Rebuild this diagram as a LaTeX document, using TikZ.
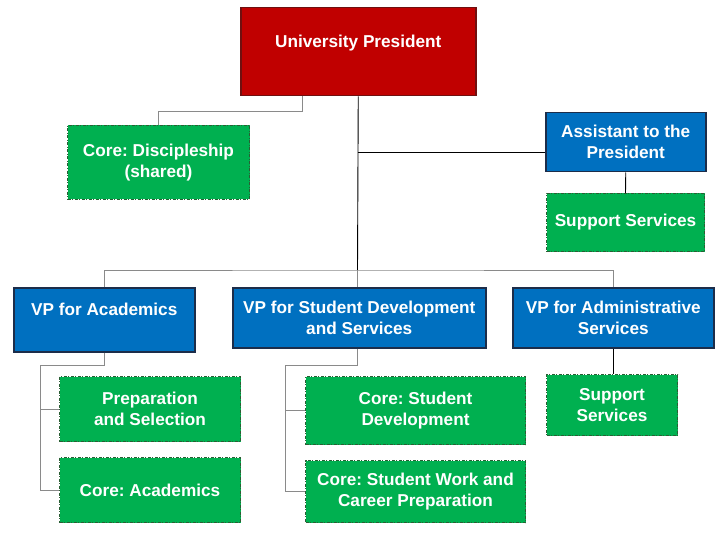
\documentclass[tikz,border=0pt]{standalone}
\usepackage{fontspec}
\setmainfont{Liberation Sans}
\frenchspacing
\definecolor{pred}{HTML}{C00000}
\definecolor{predb}{HTML}{6F1010}
\definecolor{pblue}{HTML}{0070C0}
\definecolor{pblueb}{HTML}{1C2D4A}
\definecolor{pgreen}{HTML}{00B050}
\definecolor{pgreenb}{HTML}{2A5E34}
\definecolor{lgray}{HTML}{8A8A8A}
\begin{document}
\begin{tikzpicture}[x=1pt,y=-1pt,
  base/.style={anchor=north west, inner sep=0pt, align=center, text=white,
    font=\fontsize{17.2}{21}\selectfont\bfseries\frenchspacing},
  redbox/.style={base, fill=pred, draw=predb, line width=1.5pt},
  bluebox/.style={base, fill=pblue, draw=pblueb, line width=1.5pt},
  greenbox/.style={base, fill=pgreen, draw=pgreenb, line width=1pt, dash pattern=on 3pt off 1.5pt on 1pt off 1.5pt},
  conn/.style={draw=lgray, line width=0.9pt},
  connk/.style={draw=black, line width=0.9pt}]
\useasboundingbox (0,0) rectangle (720,540);
\fill[white] (0,0) rectangle (720,540);

% boxes
\node[redbox, minimum width=235pt, minimum height=88pt] (pres) at (240,7) {University President\\\mbox{}};
\node[greenbox, minimum width=182pt, minimum height=74pt] (disc) at (67,125) {Core: Discipleship\\(shared)};
\node[bluebox, minimum width=160pt, minimum height=59pt] (asst) at (545,112) {Assistant to the\\President};
\node[greenbox, minimum width=158pt, minimum height=58pt] (sup1) at (546,193) {Support Services};

\node[bluebox, minimum width=181pt, minimum height=64pt] (vpa) at (13,287) {VP for Academics\\\mbox{}};
\node[bluebox, minimum width=253pt, minimum height=60pt] (vps) at (232,287) {VP for Student Development\\and Services};
\node[bluebox, minimum width=201pt, minimum height=60pt] (vpad) at (512,287) {VP for Administrative\\Services};

\node[greenbox, minimum width=181pt, minimum height=65pt] (prep) at (59,376) {Preparation\\and Selection};
\node[greenbox, minimum width=181pt, minimum height=65pt] (cacad) at (59,457) {Core: Academics};
\node[greenbox, minimum width=220pt, minimum height=68pt] (csd) at (305,376) {Core: Student\\Development};
\node[greenbox, minimum width=220pt, minimum height=62pt] (csw) at (305,460) {Core: Student Work and\\Career Preparation};
\node[greenbox, minimum width=131pt, minimum height=61pt] (sup2) at (546,374) {Support\\Services};

% connector points
\coordinate (jd) at (302,111);
\coordinate (ja) at (357.5,152);
\coordinate (bus) at (357.5,270);
\coordinate (ka) at (40,365);
\coordinate (ks) at (285,365);

% connectors
\path[conn] (pres.south -| jd) -- (jd) -| (disc.north);
\path[connk] (pres.south) -- (bus);
\path[connk] (ja) -- (ja -| asst.west);
\path[connk] (asst.south) -- (sup1.north);
\path[conn] (vpa.north) |- (bus) -| (vpad.north);
\path[conn] (bus) -- (bus |- vps.north);
\path[conn] (vpa.south) |- (ka) |- (cacad.west);
\path[conn] (ka |- prep.west) -- (prep.west);
\path[conn] (vps.south -| bus) |- (ks) |- (csw.west);
\path[conn] (ks |- csd.west) -- (csd.west);
\path[connk] (vpad.south) -- (vpad.south |- sup2.north);
\end{tikzpicture}
\end{document}
